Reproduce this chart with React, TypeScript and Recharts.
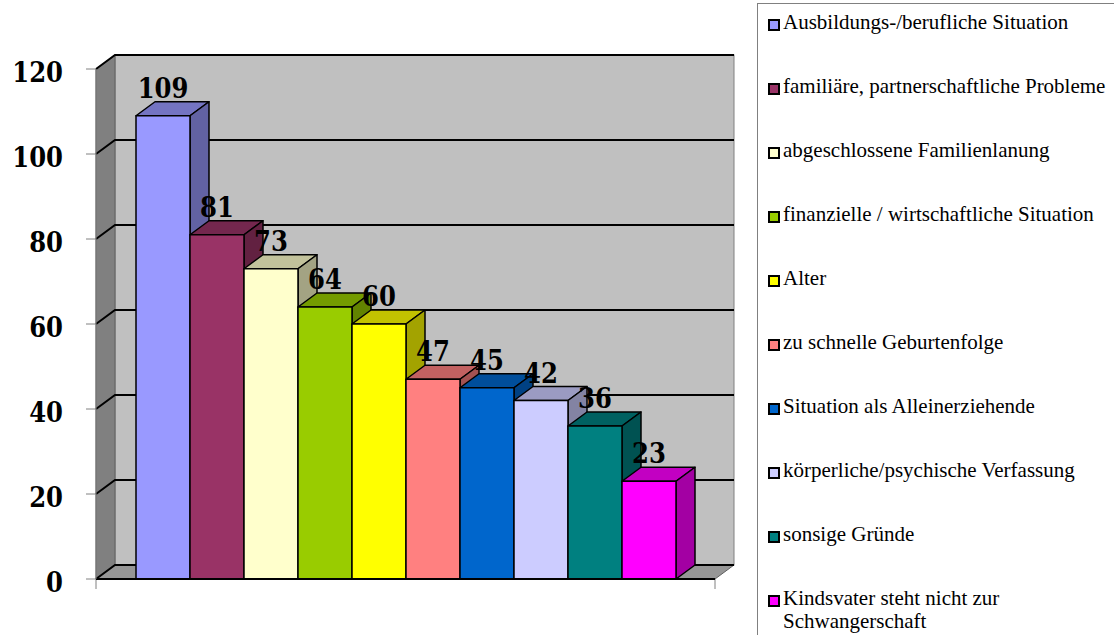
import React from "react";
import {
  BarChart,
  Bar,
  XAxis,
  YAxis,
  CartesianGrid,
  LabelList,
} from "recharts";

const reasons = [
  "Ausbildungs-/berufliche Situation",
  "familiäre, partnerschaftliche Probleme",
  "abgeschlossene Familienlanung",
  "finanzielle / wirtschaftliche Situation",
  "Alter",
  "zu schnelle Geburtenfolge",
  "Situation als Alleinerziehende",
  "körperliche/psychische Verfassung",
  "sonsige Gründe",
  "Kindsvater steht nicht zur Schwangerschaft",
];

const counts = [109, 81, 73, 64, 60, 47, 45, 42, 36, 23];

const colors = [
  "#9999ff",
  "#993366",
  "#ffffcc",
  "#99cc00",
  "#ffff00",
  "#ff8080",
  "#0066cc",
  "#ccccff",
  "#008080",
  "#ff00ff",
];

const yTicks = [0, 20, 40, 60, 80, 100, 120];

const data = [
  counts.reduce((row: any, v, i) => {
    row["s" + i] = v;
    return row;
  }, { name: "Gründe" }),
];

// depth of the fake 3d effect
const DX = 19;
const DY = 14;

const NUM_FONT = "'DejaVu Serif Condensed', 'DejaVu Serif', serif";
const TEXT_FONT = "'Liberation Serif', serif";

function shade(hex: string, f: number) {
  const n = parseInt(hex.slice(1), 16);
  const r = Math.round(((n >> 16) & 255) * f);
  const g = Math.round(((n >> 8) & 255) * f);
  const b = Math.round((n & 255) * f);
  return `rgb(${r},${g},${b})`;
}

const Box = (props: any) => {
  const { x, y, width, height, fill } = props;
  if (!height || height <= 0) return null;
  const w = width;
  return (
    <g stroke="#000" strokeWidth={1.5} strokeLinejoin="round">
      <polygon
        points={`${x},${y} ${x + DX},${y - DY} ${x + w + DX},${y - DY} ${x + w},${y}`}
        fill={shade(fill, 0.76)}
      />
      <polygon
        points={`${x + w},${y} ${x + w + DX},${y - DY} ${x + w + DX},${y + height - DY} ${x + w},${y + height}`}
        fill={shade(fill, 0.64)}
      />
      <rect x={x} y={y} width={w} height={height} fill={fill} />
    </g>
  );
};

// walls, floor and 3d grid lines
const GridLine = (props: any) => {
  const { x1, x2, y1, index, horizontalPoints } = props;
  const pts: number[] = horizontalPoints || [y1];
  const top = Math.min(...pts);
  const bottom = Math.max(...pts);
  const line = (
    <polyline
      points={`${x1},${y1} ${x1 + DX},${y1 - DY} ${x2 + DX},${y1 - DY}`}
      fill="none"
      stroke="#000"
      strokeWidth={2}
    />
  );
  if (index !== 0) return <g key={"gl" + index}>{line}</g>;
  return (
    <g key={"gl" + index}>
      <rect
        x={x1 + DX}
        y={top - DY}
        width={x2 - x1}
        height={bottom - top}
        fill="#c0c0c0"
        stroke="#808080"
      />
      <polygon
        points={`${x1},${top} ${x1 + DX},${top - DY} ${x1 + DX},${bottom - DY} ${x1},${bottom}`}
        fill="#808080"
        stroke="#606060"
      />
      <polygon
        points={`${x1},${bottom} ${x2},${bottom} ${x2 + DX},${bottom - DY} ${x1 + DX},${bottom - DY}`}
        fill="#969696"
        stroke="#606060"
      />
      <line x1={x1} y1={bottom} x2={x1} y2={bottom + 10} stroke="#808080" />
      <line x1={x2} y1={bottom} x2={x2} y2={bottom + 10} stroke="#808080" />
      {line}
    </g>
  );
};

const YTick = (props: any) => {
  const { x, y, payload } = props;
  return (
    <text
      x={x}
      y={y + 13}
      textAnchor="end"
      fontFamily={NUM_FONT}
      fontWeight="bold"
      fontSize={27}
      fill="#000"
    >
      {payload.value}
    </text>
  );
};

const ValueLabel = (props: any) => {
  const { x, y, width, value } = props;
  return (
    <text
      x={x + width / 2}
      y={y - 18}
      textAnchor="middle"
      fontFamily={NUM_FONT}
      fontWeight="bold"
      fontSize={27}
      fill="#000"
    >
      {value}
    </text>
  );
};

export default function App() {
  return (
    <div
      style={{
        position: "fixed",
        left: 0,
        top: 0,
        width: 1114,
        height: 635,
        overflow: "hidden",
        background: "#fff",
      }}
    >
      <BarChart
        width={745}
        height={635}
        data={data}
        margin={{ top: 69, right: 30, bottom: 26, left: 0 }}
        barCategoryGap={40}
        barGap={0}
      >
        <CartesianGrid vertical={false} horizontal={GridLine} />
        <XAxis
          dataKey="name"
          height={30}
          tick={false}
          tickLine={false}
          axisLine={{ stroke: "#000", strokeWidth: 2 }}
        />
        <YAxis
          width={96}
          domain={[0, 120]}
          ticks={yTicks}
          interval={0}
          tickSize={10}
          tickMargin={23}
          tick={YTick}
          axisLine={{ stroke: "#808080" }}
          tickLine={{ stroke: "#808080" }}
        />
        {reasons.map((r, i) => (
          <Bar
            key={r}
            dataKey={"s" + i}
            name={r}
            fill={colors[i]}
            shape={Box}
            isAnimationActive={false}
          >
            <LabelList dataKey={"s" + i} content={ValueLabel} />
          </Bar>
        ))}
      </BarChart>

      <div
        style={{
          position: "absolute",
          left: 757,
          top: 3,
          width: 420,
          height: 700,
          borderLeft: "1px solid #808080",
          borderTop: "1px solid #808080",
          boxSizing: "border-box",
          paddingTop: 7,
          paddingLeft: 10,
          fontFamily: TEXT_FONT,
          fontSize: 21,
          color: "#000",
        }}
      >
        {reasons.map((r, i) => (
          <div
            key={r}
            style={{ display: "flex", alignItems: "flex-start", height: 64 }}
          >
            <div
              style={{
                width: 8,
                height: 8,
                marginTop: 8,
                marginRight: 3,
                border: "2px solid #000",
                background: colors[i],
                flex: "none",
              }}
            />
            <div style={{ lineHeight: "23px", width: 330 }}>{r}</div>
          </div>
        ))}
      </div>
    </div>
  );
}
